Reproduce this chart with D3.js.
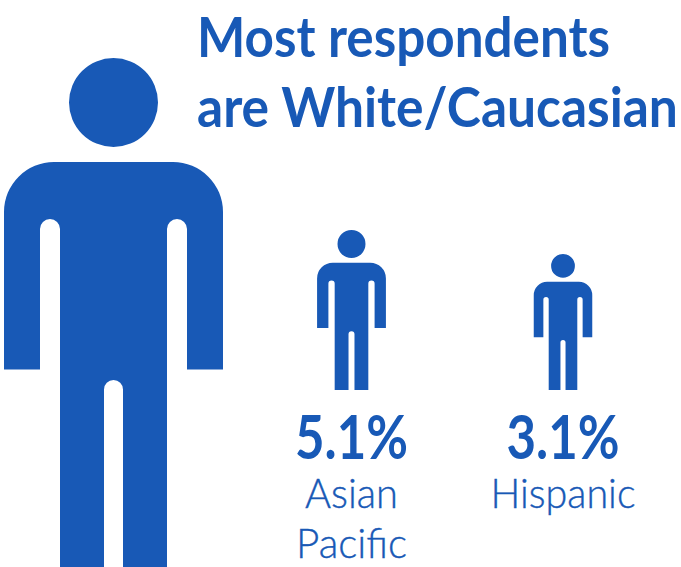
<!DOCTYPE html>
<html>
<head>
<meta charset="utf-8">
<script src="https://cdn.jsdelivr.net/npm/d3@7"></script>
<style>
  html, body { margin: 0; padding: 0; background: #fff; }
  svg { display: block; }
  text { font-family: Lato, sans-serif; fill: #1859b6; }
</style>
</head>
<body>
<svg id="chart" width="681" height="567"></svg>
<script>
const titleLines = ["Most respondents", "are White/Caucasian"];
const groups = ["Asian Pacific", "Hispanic"];
const shares = [5.1, 3.1];
const groupLabelLines = [["Asian", "Pacific"], ["Hispanic"]];

const blue = "#1859b6";
const svg = d3.select("#chart");

// Run widths that condense the Lato faces to a narrower, geometric proportion.
const titleWidths = new Map([["Most respondents", 413], ["are White/Caucasian", 481]]);
const labelWidths = new Map([["Asian", 93], ["Pacific", 111], ["Hispanic", 145]]);
const shareWidth = 113;

// Squeezes a text run horizontally about its anchor point until it measures the given width.
function fitWidth(sel, x, y, width) {
  sel.each(function (d, i) {
    const natural = this.getComputedTextLength();
    d3.select(this)
      .attr("transform", `translate(${x(d, i)},${y(d, i)}) scale(${width(d, i) / natural},1)`);
  });
}

// Pictogram outline on a 219-wide, 509-tall grid, centred on x = 0 with the head top at y = 0.
function personPath(k) {
  const p = d3.path();
  const s = v => v * k;
  p.moveTo(s(-59.5), s(104));
  p.lineTo(s(59.5), s(104));
  p.arcTo(s(109.5), s(104), s(109.5), s(154), s(50));
  p.lineTo(s(109.5), s(311.5));
  p.lineTo(s(73.5), s(311.5));
  p.lineTo(s(73.5), s(171));
  p.arc(s(63.5), s(171), s(10), 0, Math.PI, true);
  p.lineTo(s(53.5), s(509));
  p.lineTo(s(9.5), s(509));
  p.lineTo(s(9.5), s(331.5));
  p.arc(0, s(331.5), s(9.5), 0, Math.PI, true);
  p.lineTo(s(-9.5), s(509));
  p.lineTo(s(-53.5), s(509));
  p.lineTo(s(-53.5), s(171));
  p.arc(s(-63.5), s(171), s(10), 0, Math.PI, true);
  p.lineTo(s(-73.5), s(311.5));
  p.lineTo(s(-109.5), s(311.5));
  p.lineTo(s(-109.5), s(154));
  p.arcTo(s(-109.5), s(104), s(-59.5), s(104), s(50));
  p.closePath();
  p.moveTo(s(44.5), s(44.5));
  p.arc(0, s(44.5), s(44.5), 0, 2 * Math.PI);
  p.closePath();
  return p.toString();
}

function drawPerson(cx, top, height) {
  svg.append("path")
    .attr("transform", `translate(${cx},${top})`)
    .attr("d", personPath(height / 509))
    .attr("fill", blue);
}

// Share of respondents sets the height of each small figure, standing on a common floor.
const heightScale = d3.scaleLinear().domain([3.1, 5.1]).range([136, 160]);
const floorY = 390;
const columnX = d3.scaleOrdinal().domain(groups).range([351.5, 563]);

drawPerson(113.5, 58, 509);

groups.forEach((g, i) => {
  const h = heightScale(shares[i]);
  drawPerson(columnX(g), floorY - h, h);
});

svg.selectAll("text.title")
  .data(titleLines)
  .join("text")
  .attr("class", "title")
  .attr("font-size", 55)
  .attr("font-weight", 700)
  .text(d => d)
  .call(fitWidth, () => 197, (d, i) => 57 + i * 70, d => titleWidths.get(d));

svg.selectAll("text.share")
  .data(shares)
  .join("text")
  .attr("class", "share")
  .attr("text-anchor", "middle")
  .attr("font-size", 62)
  .attr("font-weight", 700)
  .text(d => d + "%")
  .call(fitWidth, (d, i) => columnX(groups[i]), () => 459, () => shareWidth);

groupLabelLines.forEach((lines, i) => {
  svg.selectAll(null)
    .data(lines)
    .join("text")
    .attr("text-anchor", "middle")
    .attr("font-size", 42)
    .attr("font-weight", 300)
    .attr("stroke", blue)
    .attr("stroke-width", 0.4)
    .text(d => d)
    .call(fitWidth, () => columnX(groups[i]), (d, j) => 508 + j * 50, d => labelWidths.get(d));
});
</script>
</body>
</html>
